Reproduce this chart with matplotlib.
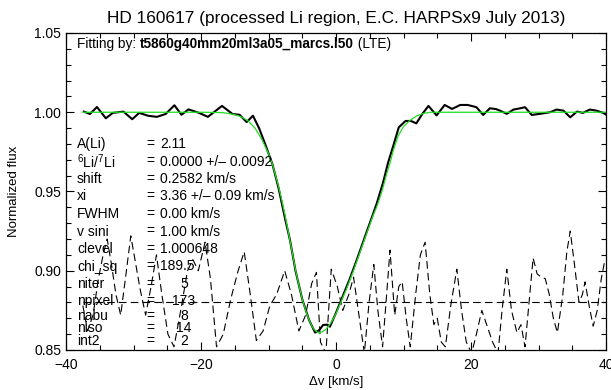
import matplotlib
matplotlib.use("Agg")
import matplotlib.pyplot as plt
from matplotlib.ticker import MultipleLocator, FormatStrFormatter

plt.rcParams['font.family'] = ['Liberation Sans', 'DejaVu Sans']
plt.rcParams['mathtext.fontset'] = 'custom'
plt.rcParams['mathtext.rm'] = 'Liberation Sans'
plt.rcParams['lines.scale_dashes'] = False

# ---- observed spectrum (velocity, normalized flux) ----
obs_v = [-37.35, -36.46, -35.41, -34.10, -33.06, -31.49, -30.19, -29.15, -27.85,
         -26.54, -25.24, -23.94, -22.89, -21.85, -20.29, -18.98, -16.89, -15.33,
         -14.28, -13.24, -12.30, -11.40, -10.50, -9.40, -8.50, -7.50, -6.80, -6.00,
         -5.00, -4.00, -3.10, -2.50, -1.90, -1.30, -0.90, 0.00, 1.00, 2.00, 3.00,
         4.00, 5.00, 6.00, 7.00, 7.70, 8.50, 9.30, 10.30, 11.10, 11.90, 12.80,
         13.70, 14.90, 16.10, 17.20, 18.40, 19.50, 20.80, 21.80, 22.80, 23.70,
         24.30, 25.30, 26.30, 27.30, 28.00, 29.00, 30.20, 31.70, 32.70, 33.70,
         34.70, 35.70, 36.60, 37.60, 38.60, 39.60, 40.00]
obs_f = [1.0004, 0.9989, 1.0033, 0.9962, 0.9996, 1.0004, 0.9956, 0.9996, 0.9978,
         0.9971, 0.9989, 1.0044, 0.9984, 1.0018, 0.9996, 0.9971, 1.0040, 0.9989,
         0.9984, 0.9938, 0.9978, 0.9900, 0.9800, 0.9670, 0.9520, 0.9320, 0.9190, 0.9000,
         0.8820, 0.8690, 0.8610, 0.8625, 0.8658, 0.8660, 0.8647, 0.8735, 0.8840, 0.8945, 0.9060,
         0.9180, 0.9300, 0.9420, 0.9560, 0.9680, 0.9790, 0.9905, 0.9945, 0.9945, 0.9930,
         0.9990, 1.0040, 0.9980, 1.0046, 1.0021, 1.0046, 1.0046, 1.0032, 0.9983, 1.0025,
         1.0020, 1.0010, 0.9990, 1.0017, 1.0025, 1.0032, 0.9983, 0.9990, 1.0000, 1.0017,
         1.0010, 0.9968, 1.0004, 0.9996, 1.0017, 1.0010, 0.9996, 0.9985]

# ---- synthetic best fit ----
fit_v = [-37.5, -20.0, -17.0, -16.0, -15.0, -14.0, -13.0, -12.0, -11.0, -10.0, -9.4,
         -8.5, -8.0, -7.5, -7.0, -6.5, -6.0, -5.5, -5.0, -4.5, -4.0, -3.5, -3.0, -2.6,
         -2.0, -1.5, -1.0, -0.5, 0.0, 0.6, 1.0, 1.5, 2.0, 2.5, 3.0, 3.5, 4.0, 4.5, 5.0,
         5.5, 6.0, 6.5, 7.0, 7.5, 8.0, 8.5, 9.2, 10.0, 11.0, 12.0, 13.0, 14.0, 40.0]
fit_f = [1.0, 1.0, 0.9998, 0.9993, 0.9985, 0.997, 0.9945, 0.99, 0.983, 0.974, 0.967,
         0.953, 0.944, 0.934, 0.923, 0.912, 0.9005, 0.891, 0.882, 0.875, 0.869, 0.8645,
         0.862, 0.8608, 0.8615, 0.863, 0.8655, 0.869, 0.873, 0.879, 0.883, 0.888, 0.8935,
         0.899, 0.905, 0.911, 0.917, 0.923, 0.929, 0.935, 0.940, 0.946, 0.953, 0.961,
         0.968, 0.976, 0.985, 0.991, 0.995, 0.9978, 0.9993, 1.0, 1.0]

# ---- scaled residuals, plotted around the 0.88 level ----
res_v = [-37.5, -36.8, -36.0, -35.2, -34.5, -33.9, -33.3, -32.6, -31.9, -31.2, -30.4,
         -29.7, -29.0, -28.2, -27.4, -26.6, -25.8, -24.9, -24.0, -23.0, -22.0, -21.2,
         -20.4, -19.4, -18.6, -17.7, -16.7, -15.6, -14.5, -13.6, -12.7, -11.8, -10.8,
         -9.8, -8.8, -7.6, -6.6, -5.5, -4.5, -3.6, -2.9, -2.3, -1.5, -0.7, 0.2, 1.0,
         1.9, 2.6, 3.4, 4.2, 4.9, 5.6, 6.2, 6.9, 7.5, 8.0, 8.7, 9.3, 9.8, 10.4, 11.0,
         11.8, 12.5, 13.2, 13.9, 14.5, 15.0, 15.6, 16.2, 17.0, 17.9, 18.6, 19.3, 20.1,
         20.8, 21.6, 22.4, 23.2, 24.0, 24.6, 25.3, 26.0, 26.8, 27.4, 28.0, 28.6, 29.2,
         29.8, 30.4, 31.0, 31.6, 32.2, 32.8, 33.6, 34.2, 34.7, 35.3, 36.0, 36.5, 36.9,
         37.5, 38.1, 38.7, 39.3, 39.8]
res_f = [0.878, 0.862, 0.872, 0.895, 0.910, 0.920, 0.905, 0.885, 0.872, 0.895, 0.922,
         0.905, 0.888, 0.872, 0.890, 0.910, 0.885, 0.860, 0.852, 0.875, 0.900, 0.907,
         0.900, 0.918, 0.895, 0.852, 0.860, 0.882, 0.900, 0.912, 0.885, 0.856, 0.862,
         0.878, 0.885, 0.900, 0.885, 0.862, 0.872, 0.892, 0.899, 0.855, 0.848, 0.901,
         0.890, 0.875, 0.885, 0.896, 0.872, 0.848, 0.880, 0.904, 0.875, 0.852, 0.885,
         0.913, 0.872, 0.890, 0.893, 0.870, 0.852, 0.885, 0.910, 0.918, 0.885, 0.866,
         0.870, 0.855, 0.852, 0.878, 0.901, 0.875, 0.855, 0.848, 0.860, 0.875, 0.865,
         0.855, 0.848, 0.875, 0.901, 0.875, 0.861, 0.866, 0.852, 0.880, 0.908, 0.898,
         0.896, 0.895, 0.885, 0.870, 0.861, 0.885, 0.912, 0.925, 0.905, 0.880, 0.885,
         0.893, 0.878, 0.865, 0.875, 0.895, 0.906]
res_level = 0.88

param_names = ["A(Li)", r"$\mathregular{^6}$Li/$\mathregular{^7}$Li", "shift", "xi", "FWHM",
               "v sini", "clevel", "chi_sq"]
param_values = ["2.11", "0.0000 +/\u2013 0.0092", "0.2582 km/s", "3.36 +/\u2013 0.09 km/s",
                "0.00 km/s", "1.00 km/s", "1.000648", "189.5"]
count_names = ["niter", "npixel", "nabu", "niso", "int2"]
count_values = ["5", "173", "8", "14", "2"]

W, H = 611, 390
fig = plt.figure(figsize=(W / 100, H / 100), dpi=100)
L, R, T, B = 66, 606, 33, 350
ax = fig.add_axes([L / W, 1 - B / H, (R - L) / W, (B - T) / H])

ax.plot(res_v, res_f, color='black', lw=0.8, dashes=(5.5, 3.0))
ax.plot([res_v[0], 40], [res_level, res_level], color='black', lw=0.8, dashes=(5.5, 3.0))
ax.plot(obs_v, obs_f, color='black', lw=1.5)
ax.plot(fit_v, fit_f, color='#22dd22', lw=0.9)

ax.set_xlim(-40, 40)
ax.set_ylim(0.85, 1.05)
ax.xaxis.set_major_locator(MultipleLocator(20))
ax.xaxis.set_minor_locator(MultipleLocator(5))
ax.yaxis.set_major_locator(MultipleLocator(0.05))
ax.yaxis.set_minor_locator(MultipleLocator(0.01))
ax.yaxis.set_major_formatter(FormatStrFormatter('%.2f'))
ax.tick_params(which='both', direction='in', top=True, right=True, color='black',
               width=0.8, labelsize=10)
ax.tick_params(axis='x', which='major', pad=6)
ax.tick_params(which='major', length=6)
ax.tick_params(which='minor', length=3.5)
for s in ax.spines.values():
    s.set_linewidth(0.9)

ax.set_xlabel("\u0394v [km/s]", fontsize=9.5, labelpad=3)
ax.set_ylabel("Normalized flux", fontsize=9.5, labelpad=10)


def ftxt(px, py, s, **kw):
    return fig.text(px / W, 1 - py / H, s, **kw)


ftxt(336, 18, "HD 160617 (processed Li region, E.C. HARPSx9 July 2013)",
     ha='center', va='center', fontsize=12.4)

# "Fitting by" line with bold model name
fig.canvas.draw()
rend = fig.canvas.get_renderer()
x0 = 77
parts = [("Fitting by: ", 'normal'), ("t5860g40mm20ml3a05_marcs.l50", 'bold'), (" (LTE)", 'normal')]
for txt, wt in parts:
    t = ftxt(x0, 44, txt, ha='left', va='center', fontsize=9.8, fontweight=wt)
    bb = t.get_window_extent(renderer=rend)
    x0 += bb.width

rows_y = [144, 161.5, 179, 196.5, 214, 231.5, 249, 266.5]
for y, n, v in zip(rows_y, param_names, param_values):
    ftxt(77, y, n, ha='left', va='center', fontsize=10)
    ftxt(146, y, "=", ha='left', va='center', fontsize=10)
    ftxt(160, y, v, ha='left', va='center', fontsize=10)

count_y = [284, 301, 316, 328.5, 341]
for y, n, v in zip(count_y, count_names, count_values):
    ftxt(77, y, n, ha='left', va='center', fontsize=10)
    ftxt(146, y, "=", ha='left', va='center', fontsize=10)
    ftxt(184, y, v, ha='center', va='center', fontsize=10)

fig.savefig("out.png", dpi=100)
